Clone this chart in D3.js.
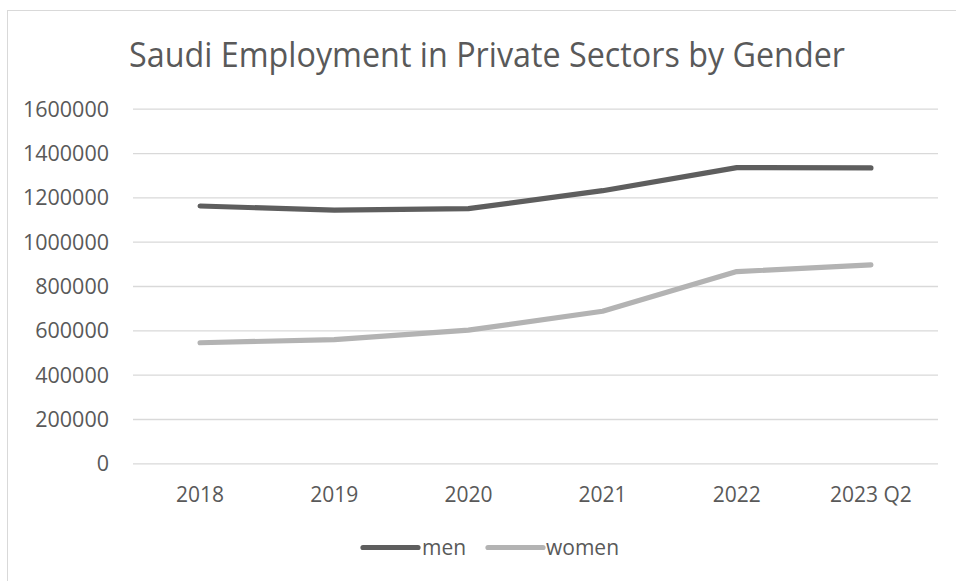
<!DOCTYPE html>
<html>
<head>
<meta charset="utf-8">
<script src="https://cdn.jsdelivr.net/npm/d3@7"></script>
<style>
  html, body { margin: 0; padding: 0; background: #ffffff; }
  svg { display: block; }
  text { font-family: "Open Sans", "DejaVu Sans", sans-serif; fill: #595959; }
</style>
</head>
<body>
<svg id="chart" width="956" height="581"></svg>
<script>
// Saudi nationals employed in the private sector, by gender
const years = ["2018", "2019", "2020", "2021", "2022", "2023 Q2"];
const men   = [1161000, 1142000, 1149000, 1230000, 1334000, 1333000];
const women = [544000, 558000, 601000, 686000, 865000, 895000];
const yTicks = [0, 200000, 400000, 600000, 800000, 1000000, 1200000, 1400000, 1600000];

const seriesNames = ["men", "women"];
const seriesColors = { men: "#5e5e5e", women: "#b3b3b3" };
const series = [
  { name: "men", values: men },
  { name: "women", values: women }
];

const W = 956, H = 581;
const plot = { left: 133, right: 938, top: 108.7, bottom: 463.3 };

const svg = d3.select("#chart");

// outer chart frame
svg.append("rect")
  .attr("x", 7.5).attr("y", 10.5)
  .attr("width", W + 20).attr("height", H + 20)
  .attr("fill", "#ffffff")
  .attr("stroke", "#d9d9d9")
  .attr("stroke-width", 1);

// title
const title = svg.append("text")
  .attr("x", 487).attr("y", 67)
  .attr("text-anchor", "middle")
  .style("font-size", "34px")
  .style("font-weight", 400)
  .text("Saudi Employment in Private Sectors by Gender");
title.attr("textLength", 716).attr("lengthAdjust", "spacingAndGlyphs");

const x = d3.scaleBand().domain(years).range([plot.left, plot.right]).paddingInner(0).paddingOuter(0);
const y = d3.scaleLinear().domain([0, 1600000]).range([plot.bottom, plot.top]);

// horizontal gridlines + value labels
const yAxis = d3.axisLeft(y)
  .tickValues(yTicks)
  .tickSize(-(plot.right - plot.left))
  .tickPadding(24)
  .tickFormat(d3.format("d"));

const gy = svg.append("g")
  .attr("transform", `translate(${plot.left},0)`)
  .call(yAxis);
gy.select(".domain").remove();
gy.selectAll(".tick line").attr("stroke", "#d9d9d9").attr("stroke-width", 1.3);
gy.selectAll(".tick text")
  .attr("fill", "#595959")
  .style("font-size", "21.5px")
  .attr("dy", "0.35em");

// category labels
const xAxis = d3.axisBottom(x).tickSize(0).tickPadding(0);
const gx = svg.append("g")
  .attr("transform", `translate(0,${plot.bottom})`)
  .call(xAxis);
gx.select(".domain").remove();
gx.selectAll(".tick text")
  .attr("fill", "#595959")
  .style("font-size", "21px")
  .attr("y", 38.5)
  .attr("dy", 0);

// series lines
const line = d3.line()
  .x((d, i) => x(years[i]) + x.bandwidth() / 2)
  .y(d => y(d));

svg.append("g").selectAll("path")
  .data(series)
  .join("path")
  .attr("d", d => line(d.values))
  .attr("fill", "none")
  .attr("stroke", d => seriesColors[d.name])
  .attr("stroke-width", 5.2)
  .attr("stroke-linecap", "round")
  .attr("stroke-linejoin", "round");

// legend
const legendItems = [
  { name: "men", x1: 363, x2: 418, tx: 422 },
  { name: "women", x1: 488, x2: 543, tx: 546 }
];
const lg = svg.append("g");
legendItems.forEach(it => {
  lg.append("line")
    .attr("x1", it.x1).attr("x2", it.x2)
    .attr("y1", 547.5).attr("y2", 547.5)
    .attr("stroke", seriesColors[it.name])
    .attr("stroke-width", 5.2)
    .attr("stroke-linecap", "round");
  lg.append("text")
    .attr("x", it.tx).attr("y", 555)
    .style("font-size", "21px")
    .text(it.name);
});
</script>
</body>
</html>
